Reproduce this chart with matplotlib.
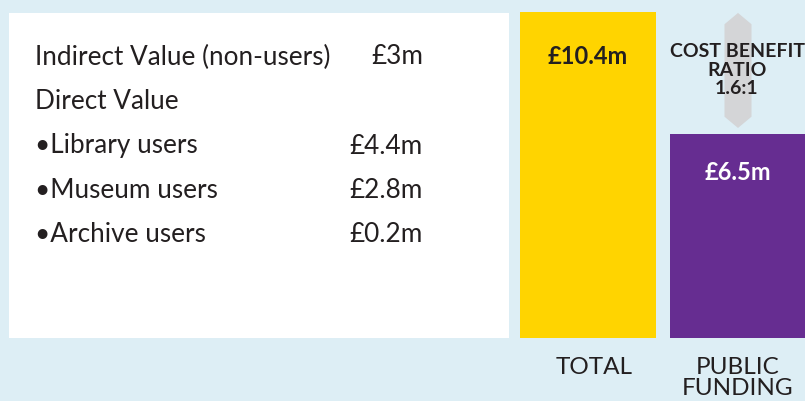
import matplotlib.pyplot as plt
from matplotlib.patches import Rectangle, Polygon

# data
bar_labels = ['TOTAL', 'PUBLIC\nFUNDING']
bar_values = [10.4, 6.5]
bar_texts = ['£10.4m', '£6.5m']
ratio_text = 'COST BENEFIT\nRATIO\n1.6:1'

row_labels = ['Indirect Value (non-users)', 'Direct Value', '•Library users',
              '•Museum users', '•Archive users']
row_values = ['£3m', '', '£4.4m', '£2.8m', '£0.2m']

bg = '#ddeef5'
yellow = '#ffd400'
purple = '#662d91'
grey = '#d4d5d7'
txt = '#231f20'

plt.rcParams['font.family'] = ['Lato', 'DejaVu Sans']

W, H = 805, 401
fig = plt.figure(figsize=(W / 100, H / 100), dpi=100, facecolor=bg)

# panel on the left, pixel coordinates
ax = fig.add_axes([0, 0, 1, 1])
ax.set_xlim(0, W)
ax.set_ylim(H, 0)
ax.axis('off')
ax.add_patch(Rectangle((9, 13), 500, 325, facecolor='white', edgecolor='none'))
for i, (lab, val) in enumerate(zip(row_labels, row_values)):
    y = 57 + i * 44.5
    ax.text(35, y, lab, fontsize=18.8, color=txt, va='center', ha='left')
    ax.text(423, y, val, fontsize=18.8, color=txt, va='center', ha='right')

# bars
bx = fig.add_axes([513 / W, 63 / H, 300 / W, 326 / H])
bx.set_facecolor('none')
bx.set_xlim(-0.5, 1.5)
bx.set_ylim(0, max(bar_values))
for s in bx.spines.values():
    s.set_visible(False)
bx.set_yticks([])
x = [0, 1]
bx.bar(x, bar_values, width=0.907, color=[yellow, purple])
bx.set_xticks([0.04, 1], bar_labels)
bx.tick_params(axis='x', length=0, pad=14, labelsize=17.5, labelcolor=txt)
for lab in bx.get_xticklabels():
    lab.set_linespacing(0.95)
    lab.set_va('top')

# double arrow between the two bar tops
tot, pub = bar_values
hw = 0.09
lo, hi = pub + 0.2, tot - 0.03
sh = 0.36
arrow = Polygon([(1, hi), (1 + hw, hi - sh), (1 + hw, lo + sh), (1, lo),
                 (1 - hw, lo + sh), (1 - hw, hi - sh)],
                closed=True, facecolor=grey, edgecolor='none')
bx.add_patch(arrow)

bx.annotate(bar_texts[0], (0, tot), xytext=(0, -45), textcoords='offset pixels',
            ha='center', va='center', fontsize=17, fontweight='bold', color=txt)
bx.annotate(bar_texts[1], (1, pub), xytext=(0, -38), textcoords='offset pixels',
            ha='center', va='center', fontsize=17, fontweight='bold', color='white')
bx.annotate(ratio_text, (1, tot), xytext=(-1, -58), textcoords='offset pixels',
            ha='center', va='center', fontsize=14, fontweight='bold', color=txt,
            linespacing=1.1)

fig.savefig('out.png', dpi=100, facecolor=bg)
